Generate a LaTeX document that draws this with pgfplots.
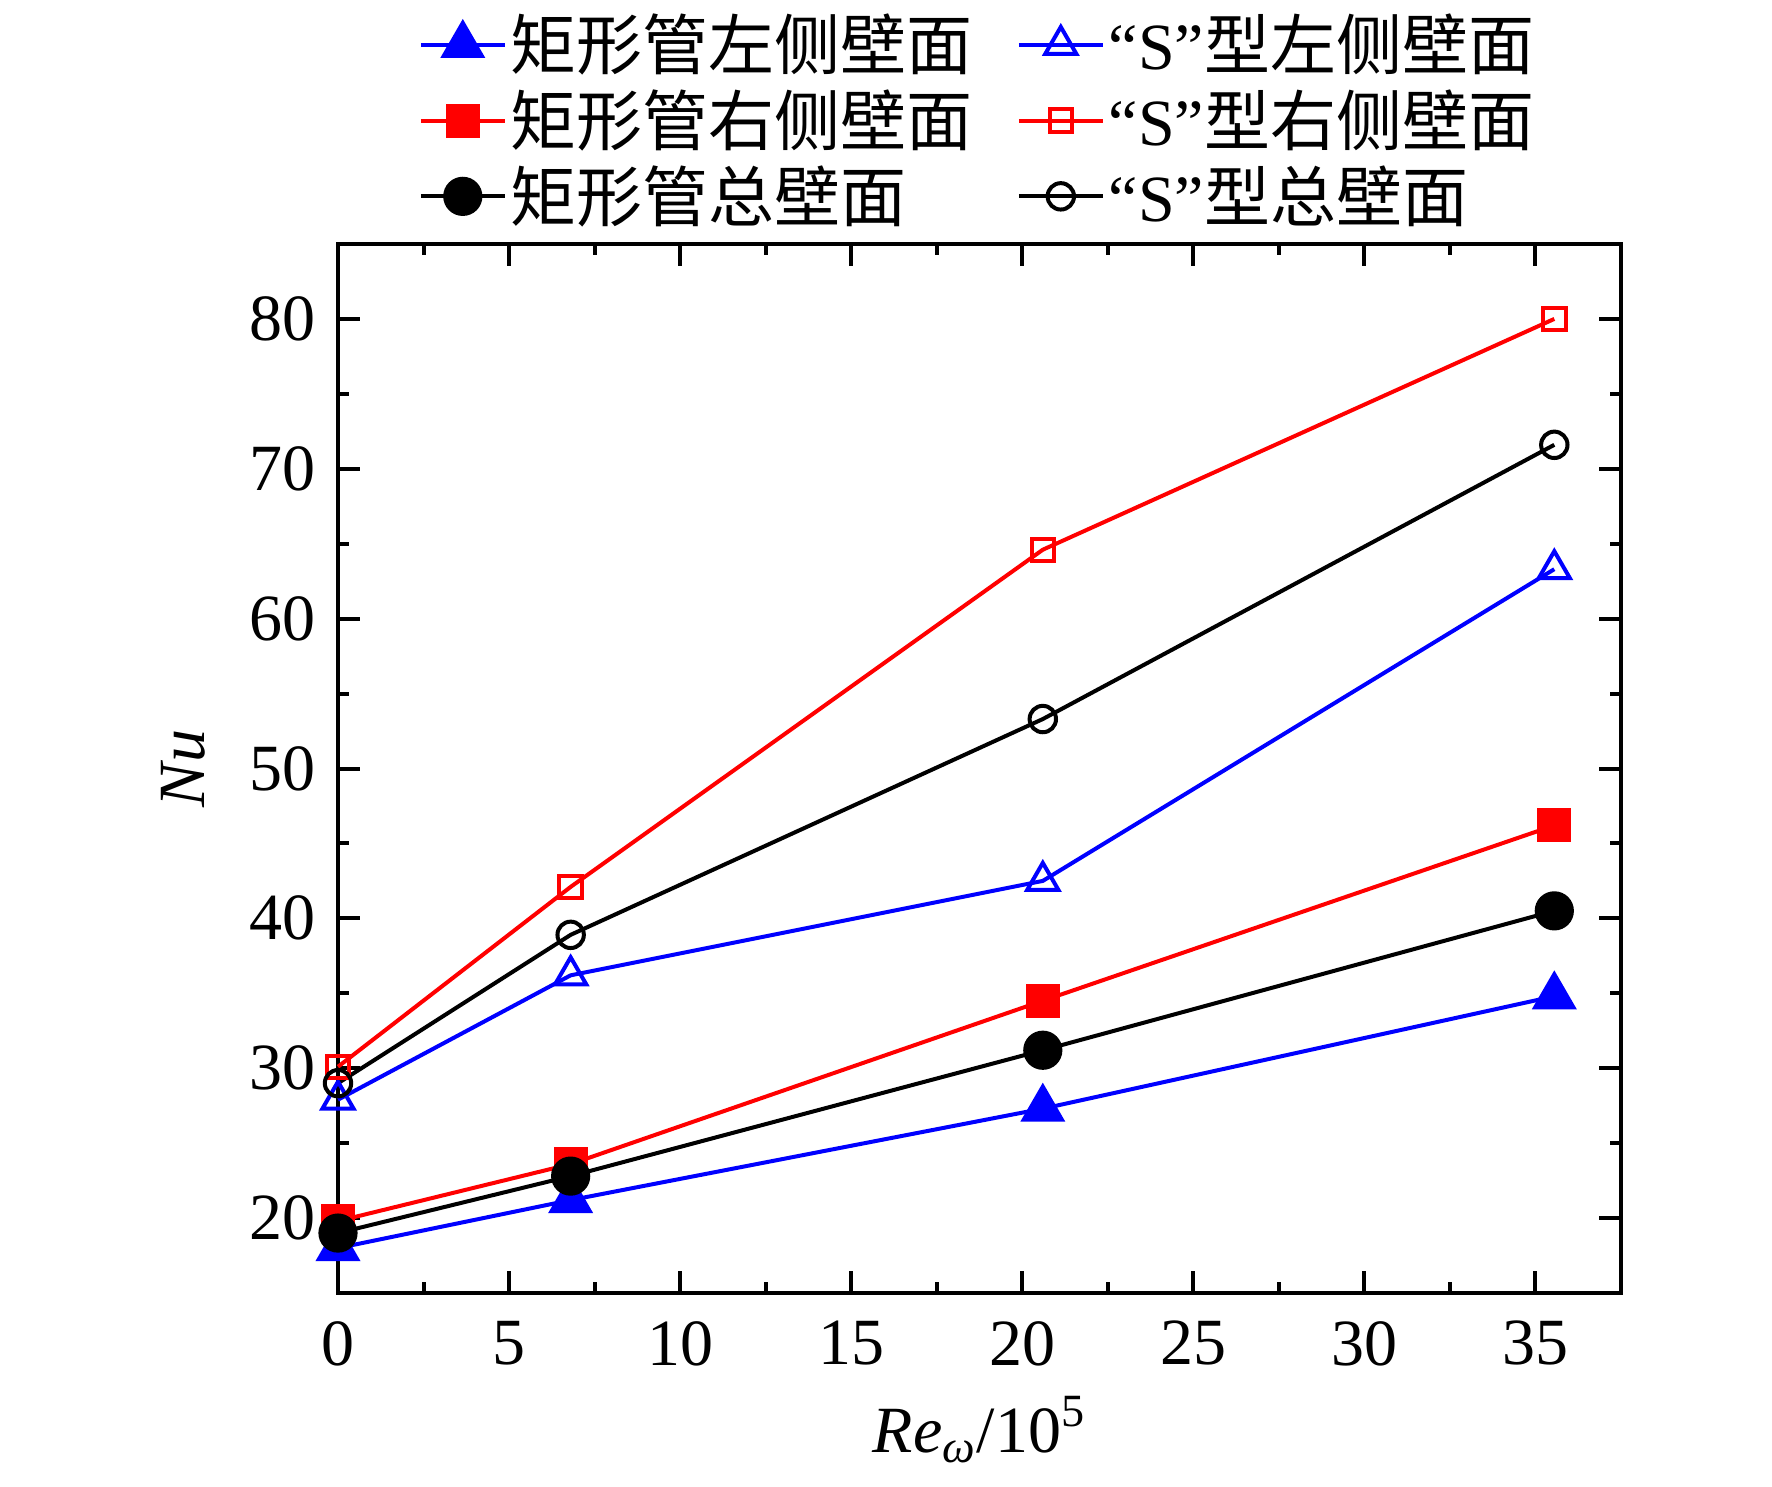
\documentclass[border=0pt]{standalone}
\usepackage{pgfplots}
\pgfplotsset{compat=1.18}
\usepackage{fontspec}
\setmainfont{Liberation Serif}
\newfontfamily\cjk{Noto Sans CJK SC}
\definecolor{myblue}{RGB}{0,0,255}
\definecolor{myred}{RGB}{255,0,0}
\begin{document}
\begin{tikzpicture}
\begin{axis}[
  scale only axis,
  width=320.75pt, height=262.25pt,
  xmin=0, xmax=37.5, ymin=15, ymax=85,
  xtick={0,5,...,35}, ytick={20,30,...,80},
  minor x tick num=1, minor y tick num=1,
  tick align=inside,
  major tick length=5.5pt, minor tick length=2.75pt,
  axis line style={line width=1pt},
  every tick/.style={black, line width=1pt},
  tick label style={font=\fontsize{16.5}{18}\selectfont},
  xticklabel style={yshift=-3.5pt},
  yticklabel style={xshift=-2pt},
  /pgf/number format/assume math mode=true,
  xlabel={\textit{Re}\textsubscript{\textit{ω}}/10\textsuperscript{5}},
  ylabel={\textit{Nu}},
  label style={font=\fontsize{16.5}{18}\selectfont},
  xlabel style={at={(axis description cs:0.5,-0.1516)}, anchor=base},
  ylabel style={at={(axis description cs:-0.1208,0.5)}, anchor=center},
  clip=false,
  legend columns=3,
  transpose legend,
  legend cell align=left,
  legend image code/.code={%
    \draw[mark repeat=2,mark phase=2,#1] plot coordinates {(0pt,0pt) (10.5pt,0pt) (21pt,0pt)};},
  legend style={draw=none, fill=none,
    font=\fontsize{16.5}{18}\selectfont,
    at={(axis description cs:0,1)}, anchor=south west,
    xshift=20pt, yshift=3pt,
    row sep=1.5pt,
    /tikz/every even column/.append style={column sep=10pt},
    inner sep=0pt, nodes={inner sep=1pt}},
  every axis plot/.append style={line width=1pt},
]
\addplot[myblue, mark=triangle*, mark size=5.5pt, mark options={solid, fill=myblue}] coordinates {(0,18.0) (6.8,21.2) (20.6,27.3) (35.55,34.8)};
\addlegendentry{{\cjk 矩形管左侧壁面}}
\addplot[myred, mark=square*, mark size=3.75pt, mark options={solid, fill=myred}] coordinates {(0,19.8) (6.8,23.6) (20.6,34.5) (35.55,46.2)};
\addlegendentry{{\cjk 矩形管右侧壁面}}
\addplot[black, mark=*, mark size=4.4pt, mark options={solid, fill=black}] coordinates {(0,19.0) (6.8,22.8) (20.6,31.2) (35.55,40.5)};
\addlegendentry{{\cjk 矩形管总壁面}}
\addplot[myblue, mark=triangle, mark size=4.5pt, mark options={solid, fill=white}] coordinates {(0,27.9) (6.8,36.2) (20.6,42.5) (35.55,63.3)};
\addlegendentry{“S”{\cjk 型左侧壁面}}
\addplot[myred, mark=square, mark size=2.8pt, mark options={solid, fill=white}] coordinates {(0,30.1) (6.8,42.1) (20.6,64.6) (35.55,80.0)};
\addlegendentry{“S”{\cjk 型右侧壁面}}
\addplot[black, mark=o, mark size=3.3pt, mark options={solid, fill=white}] coordinates {(0,29.0) (6.8,38.9) (20.6,53.3) (35.55,71.6)};
\addlegendentry{“S”{\cjk 型总壁面}}
\end{axis}
\pgfresetboundingbox
\path[use as bounding box] ([xshift=-84.5pt,yshift=-48.25pt]current axis.south west) rectangle ([xshift=37.75pt,yshift=61pt]current axis.north east);
\end{tikzpicture}
\end{document}
